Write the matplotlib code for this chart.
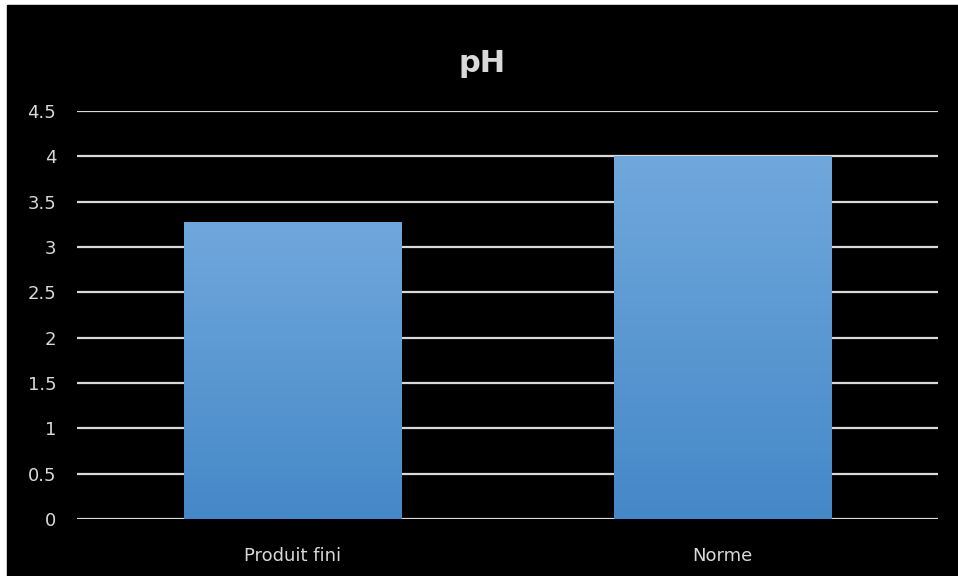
import numpy as np
import matplotlib.pyplot as plt
from matplotlib.patches import Rectangle
from matplotlib.colors import LinearSegmentedColormap

# data
categories = ["Produit fini", "Norme"]
values = [3.28, 4.0]
yticks = [0, 0.5, 1, 1.5, 2, 2.5, 3, 3.5, 4, 4.5]
ytick_labels = ["0", "0.5", "1", "1.5", "2", "2.5", "3", "3.5", "4", "4.5"]

W, H = 958, 576
fig = plt.figure(figsize=(W / 100, H / 100), dpi=100, facecolor="white")

# black chart area (white margin only at left/top)
fig.patches.append(Rectangle((7 / W, 0), 1 - 7 / W, 1 - 5 / H,
                             transform=fig.transFigure, color="black", zorder=-5))

ax = fig.add_axes([77 / W, 57 / H, (938 - 77) / W, (519 - 111) / H])
ax.set_facecolor("none")

txt_color = "#d9d9d9"
for y in yticks:
    ax.axhline(y, color="#d9d9d9", lw=1.6, zorder=1)

# gradient bars
cmap = LinearSegmentedColormap.from_list("barg", ["#4588c8", "#70a8dc"])
grad = np.linspace(0, 1, 256).reshape(-1, 1)
x = np.arange(len(categories))
bars = ax.bar(x, values, width=0.505, color="none", zorder=2)
for b in bars:
    x0, y0 = b.get_x(), b.get_y()
    im = ax.imshow(grad, extent=[x0, x0 + b.get_width(), y0, y0 + b.get_height()],
                   origin="lower", cmap=cmap, aspect="auto", zorder=2)
    im.set_clip_path(b)
ax.set_xlim(-0.5, 1.5)
ax.set_ylim(0, 4.5)

for s in ax.spines.values():
    s.set_visible(False)
ax.set_yticks(yticks)
ax.set_yticklabels(ytick_labels)
ax.set_xticks(x)
ax.set_xticklabels(categories)
ax.tick_params(axis="y", length=0, pad=15, labelsize=13, colors=txt_color)
ax.tick_params(axis="x", length=0, pad=20, labelsize=13, colors=txt_color)

fig.text(482 / W, 1 - 64 / H, "pH", ha="center", va="center",
         fontsize=22, fontweight="bold", color=txt_color)

fig.savefig("out.png", dpi=100, facecolor="white")
